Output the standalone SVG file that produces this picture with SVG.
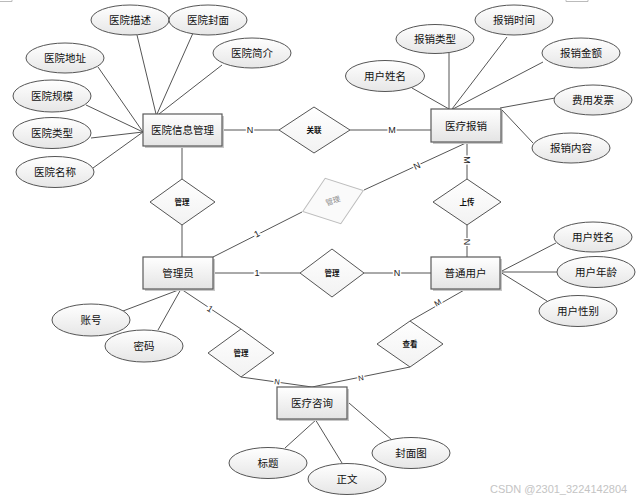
<svg xmlns="http://www.w3.org/2000/svg" width="642" height="499" viewBox="0 0 642 499">
<defs>
<linearGradient id="gEnt" x1="0" y1="0" x2="0" y2="1"><stop offset="0" stop-color="#ffffff"/><stop offset="1" stop-color="#e4e4e4"/></linearGradient>
<linearGradient id="gEll" x1="0" y1="0" x2="0" y2="1"><stop offset="0" stop-color="#ffffff"/><stop offset="1" stop-color="#e6e6e6"/></linearGradient>
<linearGradient id="gDia" x1="0" y1="0" x2="0" y2="1"><stop offset="0" stop-color="#ffffff"/><stop offset="1" stop-color="#f2f2f2"/></linearGradient>
<style>
text{font-family:"Liberation Sans","Noto Sans CJK SC",sans-serif;fill:#111;text-anchor:middle;dominant-baseline:central}
.ent rect.b{fill:url(#gEnt);stroke:#5a5a5a;stroke-width:1.2}
.ent rect.s{fill:#c8c8c8}
.ent text{font-size:10.5px}
.att ellipse{fill:url(#gEll);stroke:#555;stroke-width:1}
.att text{font-size:10.5px}
.rel polygon{fill:url(#gDia);stroke:#555;stroke-width:1}
.rel text{font-size:7.5px;font-weight:bold}
.ghost polygon{fill:#fafafa;stroke:#bdbdbd;stroke-width:1}
.ghost text{font-size:7.5px;fill:#8a8a8a}
#connectors line,#connectors path{stroke:#555;stroke-width:1;fill:none}
.card{font-size:9px;fill:#222;stroke:#fff;stroke-width:3;paint-order:stroke}
.wm{font-size:11px;fill:#c4c4c4;text-anchor:start}
.frag{stroke:#bbb;stroke-width:1;fill:none}
</style>
</defs>
<rect width="642" height="499" fill="#fff"/>
<path class="frag" d="M0 1.5H12V0M566 0V1.5H588V0"/>

<g id="connectors">
<line x1="137" y1="35" x2="156" y2="114"/>
<line x1="193" y1="33" x2="157" y2="114"/>
<line x1="222" y1="65" x2="159" y2="114"/>
<line x1="98" y1="67" x2="143" y2="132"/>
<line x1="86" y1="105" x2="143" y2="132"/>
<line x1="91" y1="138" x2="143" y2="132"/>
<line x1="93" y1="168" x2="143" y2="132"/>
<line x1="222" y1="130" x2="279" y2="130"/>
<line x1="350" y1="130" x2="431" y2="130"/>
<line x1="412" y1="88" x2="449" y2="109"/>
<line x1="449" y1="53" x2="449" y2="109"/>
<line x1="507" y1="37" x2="452" y2="109"/>
<line x1="543" y1="62" x2="453" y2="109"/>
<line x1="555" y1="98" x2="500" y2="108"/>
<line x1="533" y1="143" x2="502" y2="110"/>
<line x1="182" y1="146" x2="182" y2="179"/>
<line x1="182" y1="225" x2="182" y2="257"/>
<line x1="213" y1="257" x2="302" y2="212"/>
<line x1="364" y1="190" x2="468" y2="142"/>
<line x1="467" y1="142" x2="467" y2="179"/>
<line x1="467" y1="225" x2="467" y2="257"/>
<line x1="213" y1="273" x2="300" y2="273"/>
<line x1="364" y1="273" x2="431" y2="273"/>
<line x1="500" y1="272" x2="556" y2="243"/>
<line x1="500" y1="272" x2="557" y2="272"/>
<line x1="500" y1="272" x2="547" y2="301"/>
<line x1="123" y1="311" x2="181" y2="289"/>
<line x1="158" y1="330" x2="181" y2="289"/>
<line x1="181" y1="289" x2="241" y2="329"/>
<line x1="241" y1="377" x2="312" y2="387"/>
<line x1="410" y1="367" x2="312" y2="387"/>
<line x1="410" y1="321" x2="466" y2="289"/>
<line x1="285" y1="448" x2="317" y2="419"/>
<line x1="315" y1="419" x2="342" y2="463"/>
<line x1="349" y1="403" x2="392" y2="440"/>
<text class="card" x="250" y="130">N</text>
<text class="card" x="392" y="130">M</text>
<text class="card" transform="rotate(-27 257 234)" x="257" y="234">1</text>
<text class="card" transform="rotate(-25 417 166)" x="417" y="166">N</text>
<text class="card" transform="rotate(90 467 160)" x="467" y="160">M</text>
<text class="card" transform="rotate(90 467 242)" x="467" y="242">N</text>
<text class="card" x="257" y="273">1</text>
<text class="card" x="397" y="273">N</text>
<text class="card" transform="rotate(34 210 309)" x="210" y="309">1</text>
<text class="card" transform="rotate(8 277 382)" x="277" y="382" style="font-size:7.5px">N</text>
<text class="card" transform="rotate(-11 361 378)" x="361" y="378" style="font-size:7.5px">N</text>
<text class="card" transform="rotate(-30 438 303)" x="438" y="303" style="font-size:8px">M</text>
</g>

<g id="e_hospital" class="ent"><rect class="s" x="145" y="116" width="79" height="32"/><rect class="b" x="143" y="114" width="79" height="32"/><text x="182.5" y="130">医院信息管理</text></g>
<g id="e_reimburse" class="ent"><rect class="s" x="433" y="111" width="70" height="33"/><rect class="b" x="431" y="109" width="70" height="33"/><text x="466" y="125.5">医疗报销</text></g>
<g id="e_admin" class="ent"><rect class="s" x="145" y="259" width="70" height="32"/><rect class="b" x="143" y="257" width="70" height="32"/><text x="178" y="273">管理员</text></g>
<g id="e_user" class="ent"><rect class="s" x="433" y="259" width="69" height="32"/><rect class="b" x="431" y="257" width="69" height="32"/><text x="465.5" y="273">普通用户</text></g>
<g id="e_consult" class="ent"><rect class="s" x="279" y="389" width="70" height="32"/><rect class="b" x="277" y="387" width="70" height="32"/><text x="312" y="403">医疗咨询</text></g>

<g id="r_assoc" class="rel"><polygon points="279,130 314,107 350,130 314,153"/><text x="314" y="130">关联</text></g>
<g id="r_manage1" class="rel"><polygon points="150,202 182,179 215,202 182,225"/><text x="182" y="202">管理</text></g>
<g id="r_manage_ghost" class="ghost"><polygon transform="rotate(-19 333 201)" points="301,201 333,177 365,201 333,225"/><text transform="rotate(-19 333 201)" x="333" y="201">管理</text></g>
<g id="r_manage2" class="rel"><polygon points="300,273 332,249 364,273 332,297"/><text x="332" y="273">管理</text></g>
<g id="r_upload" class="rel"><polygon points="433,202 467,179 501,202 467,225"/><text x="467" y="202">上传</text></g>
<g id="r_manage3" class="rel"><polygon points="208,353 241,329 274,353 241,377"/><text x="241" y="353">管理</text></g>
<g id="r_view" class="rel"><polygon points="377,344 410,321 443,344 410,367"/><text x="410" y="344">查看</text></g>

<g id="a_h_desc" class="att"><ellipse cx="130" cy="20" rx="39" ry="15"/><text x="130" y="20">医院描述</text></g>
<g id="a_h_cover" class="att"><ellipse cx="208" cy="20" rx="39" ry="15"/><text x="208" y="20">医院封面</text></g>
<g id="a_h_addr" class="att"><ellipse cx="65" cy="58" rx="39" ry="15"/><text x="65" y="58">医院地址</text></g>
<g id="a_h_intro" class="att"><ellipse cx="252" cy="53" rx="39" ry="15"/><text x="252" y="53">医院简介</text></g>
<g id="a_h_scale" class="att"><ellipse cx="52" cy="96" rx="39" ry="16"/><text x="52" y="96">医院规模</text></g>
<g id="a_h_type" class="att"><ellipse cx="52" cy="133" rx="39" ry="15.5"/><text x="52" y="133">医院类型</text></g>
<g id="a_h_name" class="att"><ellipse cx="55" cy="172" rx="39" ry="15.5"/><text x="55" y="172">医院名称</text></g>

<g id="a_r_uname" class="att"><ellipse cx="385" cy="76" rx="39.5" ry="15.5"/><text x="385" y="76">用户姓名</text></g>
<g id="a_r_type" class="att"><ellipse cx="435" cy="39" rx="39" ry="14.5"/><text x="435" y="39">报销类型</text></g>
<g id="a_r_time" class="att"><ellipse cx="514" cy="20" rx="39" ry="15"/><text x="514" y="20">报销时间</text></g>
<g id="a_r_amount" class="att"><ellipse cx="581" cy="53" rx="39" ry="15"/><text x="581" y="53">报销金额</text></g>
<g id="a_r_invoice" class="att"><ellipse cx="593" cy="100" rx="39" ry="15"/><text x="593" y="100">费用发票</text></g>
<g id="a_r_content" class="att"><ellipse cx="571" cy="148" rx="39" ry="15"/><text x="571" y="148">报销内容</text></g>

<g id="a_u_name" class="att"><ellipse cx="593" cy="237" rx="39" ry="15"/><text x="593" y="237">用户姓名</text></g>
<g id="a_u_age" class="att"><ellipse cx="596" cy="272" rx="39" ry="15.5"/><text x="596" y="272">用户年龄</text></g>
<g id="a_u_gender" class="att"><ellipse cx="578" cy="311" rx="39" ry="15.5"/><text x="578" y="311">用户性别</text></g>

<g id="a_a_account" class="att"><ellipse cx="91" cy="320" rx="39" ry="16"/><text x="91" y="320">账号</text></g>
<g id="a_a_pwd" class="att"><ellipse cx="144" cy="346" rx="39" ry="16"/><text x="144" y="346">密码</text></g>

<g id="a_c_title" class="att"><ellipse cx="268" cy="463" rx="39" ry="15.5"/><text x="268" y="463">标题</text></g>
<g id="a_c_body" class="att"><ellipse cx="347" cy="479" rx="39" ry="15.5"/><text x="347" y="479">正文</text></g>
<g id="a_c_cover" class="att"><ellipse cx="411" cy="453" rx="39" ry="15.5"/><text x="411" y="453">封面图</text></g>

<text class="wm" x="490" y="489">CSDN @2301_3224142804</text>
</svg>
